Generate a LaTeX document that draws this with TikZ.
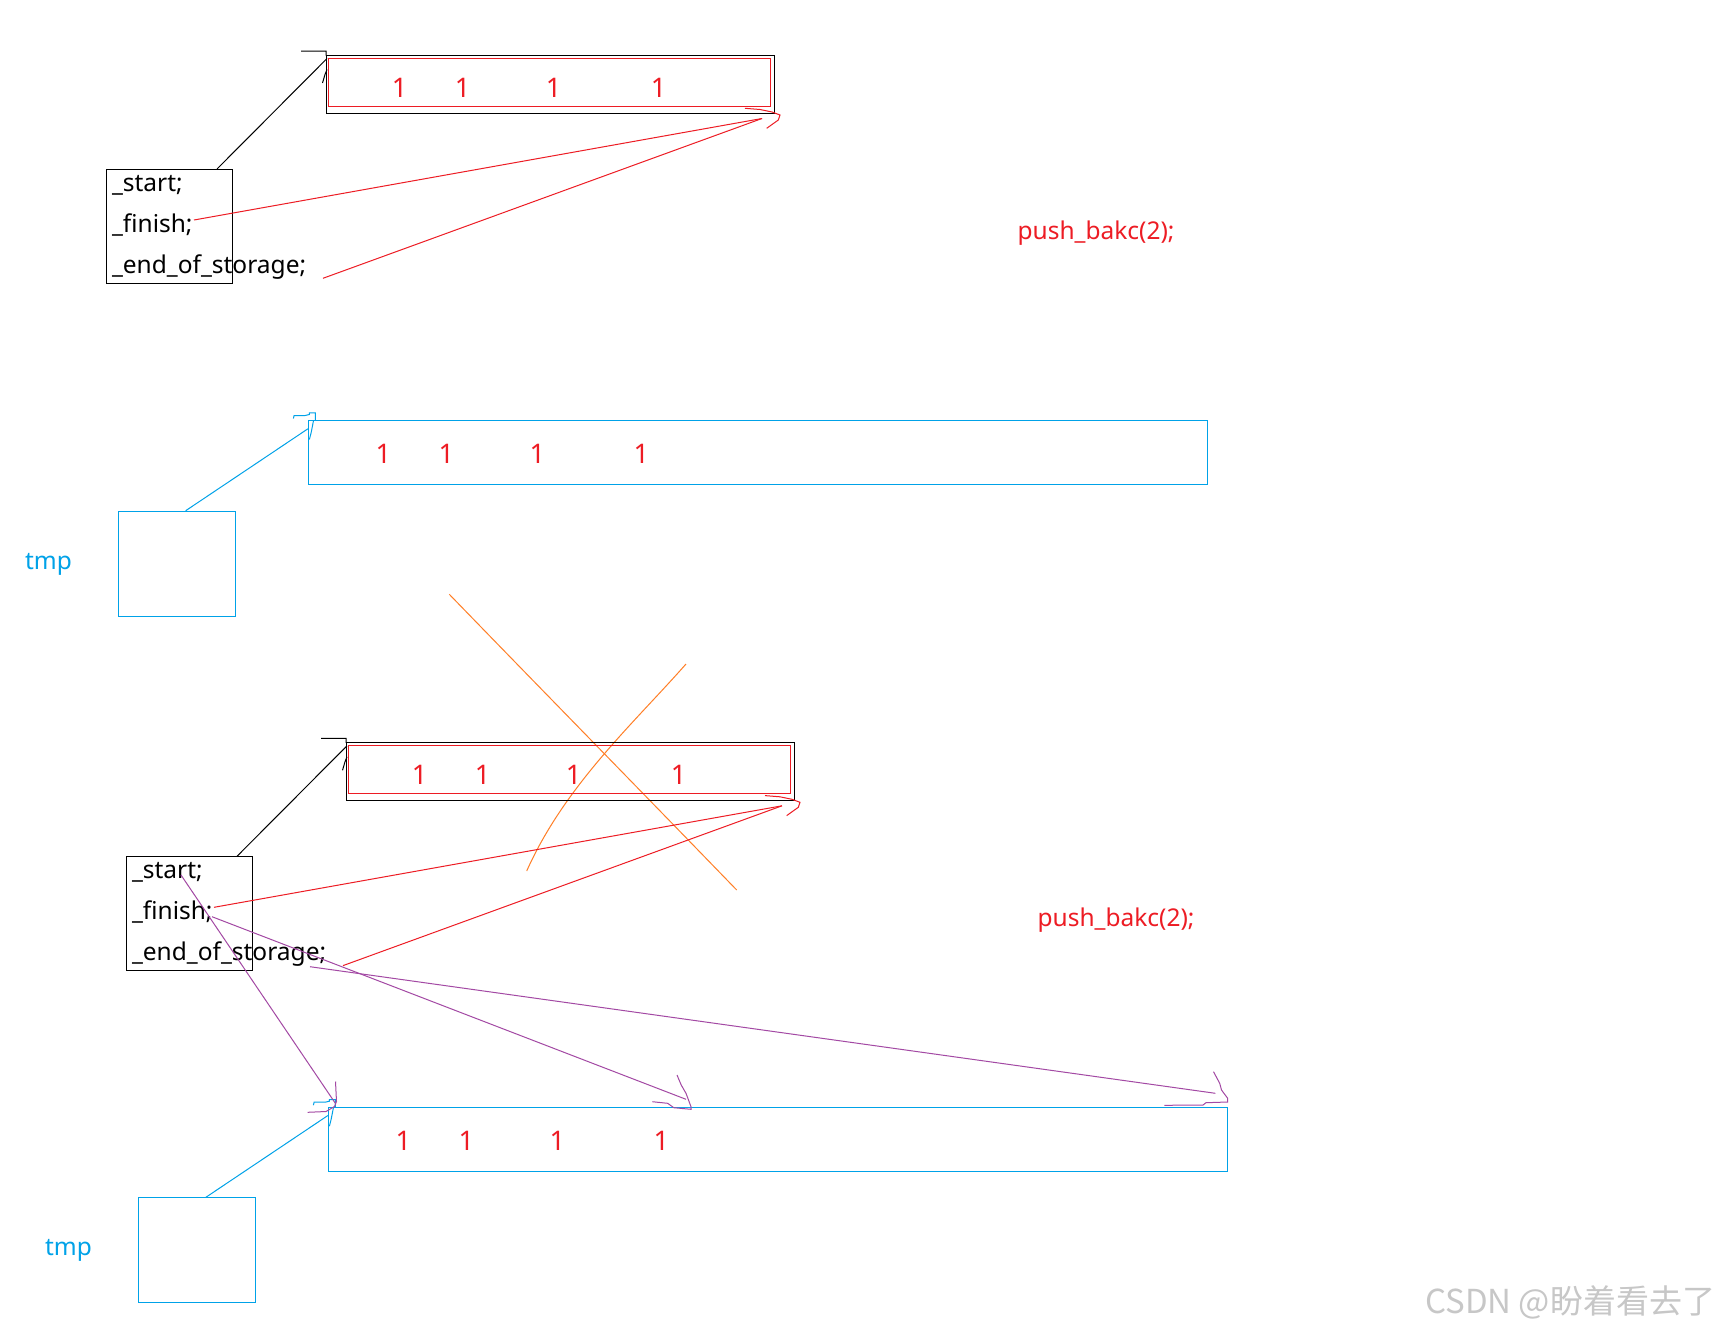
\documentclass[tikz,border=0pt]{standalone}
\usepackage{fontspec}
\setmainfont{Noto Sans}
\newfontfamily\cjkfont{Noto Sans CJK SC}
\definecolor{pred}{RGB}{237,28,36}
\definecolor{pblue}{RGB}{0,162,232}
\definecolor{porange}{RGB}{255,127,39}
\definecolor{ppurple}{RGB}{163,73,164}

\begin{document}
\begin{tikzpicture}[x=1pt, y=-1pt, line width=1pt,
 font=\fontsize{24.5}{28}\selectfont,
 cell/.style={draw, inner sep=0pt},
 field/.style={anchor=base west, inner sep=0pt},
 one/.style={text=pred, inner sep=0pt, font=\fontsize{27}{30}\selectfont},
 oldptr/.style={draw=pred},
 newptr/.style={draw=ppurple}]
\path[use as bounding box, fill=white] (0,0) rectangle (1724,1333);

\node[cell, minimum width=448pt, minimum height=58pt] (vecA) at (550,84) {};
\node[cell, draw=pred, minimum width=442pt, minimum height=48pt] (datA) at (549,82.5) {};
\foreach \dx [count=\i] in {74,137,228,333}
  \node[one] (oneA\i) at ([shift={(\dx,33.3)}]vecA.north west) {1};
\node[cell, minimum width=126pt, minimum height=114pt] (structA) at (169.6,226.4) {};
\node[field] (startA) at (111.5,191.5) {\_start;};
\node[field] (finA) at (111.5,232) {\_finish;};
\node[field] (eosA) at (111.5,273) {\_end\_of\_storage;};
\node[text=pred] (pushA) at (1096,233) {push\_bakc(2);};
\coordinate (finOutA) at (194,220);
\coordinate (eosOutA) at (323,278.3);
\coordinate (tipA) at (762,118.5);
\draw ([xshift=-16pt]structA.north east) -- ([shift={(1.5,4)}]vecA.north west);
\draw ([shift={(-24.5,-3.5)}]vecA.north west) -- ++(25,0) -- ++(0,4.5)
  ([shift={(1.5,15)}]vecA.north west) -- ++(-2,5) -- ++(-2.5,8.5);
\draw[oldptr] (finOutA) -- (tipA);
\draw[oldptr] (eosOutA) -- (tipA);
\draw[oldptr] ([shift={(-17,-10.2)}]tipA) -- ++(15,1.2) -- ++(12,2.5) -- ++(8,3) -- ++(-1.7,5) -- ++(-11.6,8.3);

\node[cell, draw=pblue, minimum width=899pt, minimum height=64pt] (bufB) at (758.4,452.3) {};
\foreach \dx [count=\i] in {75,138,229,333}
  \node[one] (oneB\i) at ([shift={(\dx,34)}]bufB.north west) {1};
\node[cell, draw=pblue, minimum width=117pt, minimum height=105pt] (tmpB) at (177,563.7) {};
\node[text=pblue] (tmpLabelB) at (48.5,564) {tmp};
\draw[pblue] ([xshift=8.7pt]tmpB.north) -- ([shift={(-0.5,9)}]bufB.north west);
\draw[pblue] ([shift={(-15,-1.3)}]bufB.north west) -- ++(0.7,-3) -- ++(11,0) -- ++(4.3,-1) -- ++(0,-1.7) -- ++(6,0) -- ++(0,7.3)
  ([shift={(5,1.3)}]bufB.north west) -- ++(-1.3,6.7) -- ++(-1,5) -- ++(-1.7,6.7);

\draw[porange] (449.3,594.3) .. controls (540,688) and (640,790) .. (736.7,890);
\draw[porange] (686,664) .. controls (635,722) and (565,785) .. (526.7,871);

\node[cell, minimum width=448pt, minimum height=58pt] (vecC) at (570,771.3) {};
\node[cell, draw=pred, minimum width=442pt, minimum height=48pt] (datC) at (569,769.8) {};
\foreach \dx [count=\i] in {74,137,228,333}
  \node[one] (oneC\i) at ([shift={(\dx,33.3)}]vecC.north west) {1};
\node[cell, minimum width=126pt, minimum height=114pt] (structC) at (189.6,913.7) {};
\node[field] (startC) at (131.5,878.8) {\_start;};
\node[field] (finC) at (131.5,919.3) {\_finish;};
\node[field] (eosC) at (131.5,960.3) {\_end\_of\_storage;};
\node[text=pred] (pushC) at (1116,920.3) {push\_bakc(2);};
\coordinate (finOutC) at (214,907.3);
\coordinate (eosOutC) at (343,965.6);
\coordinate (tipC) at (782,805.8);
\draw ([xshift=-16pt]structC.north east) -- ([shift={(1.5,4)}]vecC.north west);
\draw ([shift={(-24.5,-3.5)}]vecC.north west) -- ++(25,0) -- ++(0,4.5)
  ([shift={(1.5,15)}]vecC.north west) -- ++(-2,5) -- ++(-2.5,8.5);
\draw[oldptr] (finOutC) -- (tipC);
\draw[oldptr] (eosOutC) -- (tipC);
\draw[oldptr] ([shift={(-17,-10.2)}]tipC) -- ++(15,1.2) -- ++(12,2.5) -- ++(8,3) -- ++(-1.7,5) -- ++(-11.6,8.3);

\node[cell, draw=pblue, minimum width=899pt, minimum height=64pt] (bufD) at (778.4,1139) {};
\foreach \dx [count=\i] in {75,138,229,333}
  \node[one] (oneD\i) at ([shift={(\dx,34)}]bufD.north west) {1};
\node[cell, draw=pblue, minimum width=117pt, minimum height=105pt] (tmpD) at (197,1250.4) {};
\node[text=pblue] (tmpLabelD) at (68.5,1250.7) {tmp};
\draw[pblue] ([xshift=8.7pt]tmpD.north) -- ([shift={(-0.5,9)}]bufD.north west);
\draw[pblue] ([shift={(-15,-1.3)}]bufD.north west) -- ++(0.7,-3) -- ++(11,0) -- ++(4.3,-1) -- ++(0,-1.7) -- ++(6,0) -- ++(0,7.3)
  ([shift={(5,1.3)}]bufD.north west) -- ++(-1.3,6.7) -- ++(-1,5) -- ++(-1.7,6.7);

\coordinate (startOutC) at (181,875);
\coordinate (finOut2C) at (212,916.7);
\coordinate (eosOut2C) at (310,966.7);
\coordinate (headD1) at (335.5,1103.5);
\coordinate (headD2) at (686,1099.3);
\coordinate (headD3) at (1215.4,1093.3);
\draw[newptr] (startOutC) -- (headD1);
\draw[newptr] (finOut2C) -- (headD2);
\draw[newptr] (eosOut2C) -- (headD3);
\draw[newptr] ([shift={(0,-22)}]headD1) -- ++(1,20) -- ++(-2,5) -- ++(-8.5,5) -- ++(-18.3,0.8);
\draw[newptr] ([shift={(-33.7,2.4)}]headD2) -- ++(15.4,1.6) -- ++(6.1,4.4) -- ++(17.2,1.6) -- ++(0,-2.6) -- ++(-5,-13.4) -- ++(-4.8,-8.3) -- ++(-4.2,-10);
\draw[newptr] ([shift={(-51.1,12)}]headD3) -- ++(38.7,-0.3) -- ++(3,-2.3) -- ++(21.7,-0.7) -- ++(0,-3.7) -- ++(-6.2,-8.3) -- ++(-1.8,-6.7) -- ++(-6.2,-11.6);

\node[anchor=east, text=black!22, font=\cjkfont\fontsize{33}{36}\selectfont] (mark) at (1719,1302) {CSDN @盼着看去了};
\end{tikzpicture}
\end{document}
